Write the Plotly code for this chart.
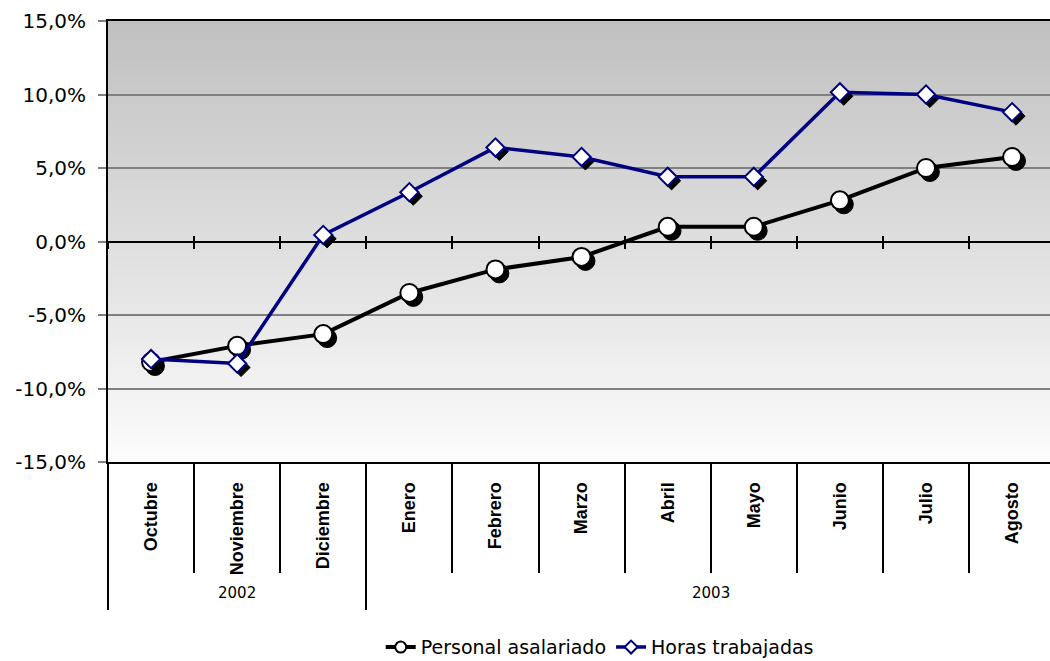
import plotly.graph_objects as go

# ---------------- data ----------------
months = ["Octubre", "Noviembre", "Diciembre", "Enero", "Febrero", "Marzo",
          "Abril", "Mayo", "Junio", "Julio", "Agosto"]
month_year = ["2002", "2002", "2002", "2003", "2003", "2003",
              "2003", "2003", "2003", "2003", "2003"]
personal = [-8.2, -7.1, -6.3, -3.5, -1.9, -1.05, 1.0, 1.0, 2.8, 5.0, 5.75]
horas = [-8.0, -8.3, 0.45, 3.35, 6.4, 5.75, 4.4, 4.4, 10.15, 10.0, 8.8]
y_tick_vals = [-15, -10, -5, 0, 5, 10, 15]
y_tick_text = ["-15,0%", "-10,0%", "-5,0%", "0,0%", "5,0%", "10,0%", "15,0%"]
series_names = ["Personal asalariado", "Horas trabajadas"]

# ---------------- geometry helpers ----------------
n = len(months)
idx = list(range(n))
x_range = [-0.5, 10.44]
y_range = [-15, 15]
inner_bounds = [i + 0.5 for i in range(n - 1)]
all_bounds = [i - 0.5 for i in range(n + 1)]
years = []
for y in month_year:
    if y not in years:
        years.append(y)
year_bounds = [-0.5]
year_centers = []
for y in years:
    first = month_year.index(y)
    last = len(month_year) - 1 - month_year[::-1].index(y)
    year_bounds.append(last + 0.5)
    year_centers.append((first + last) / 2)

dx, dy = 0.045, -0.27  # shadow offset (~4 px)

fig = go.Figure()

fig.add_trace(go.Scatter(x=[i + dx for i in idx], y=[v + dy for v in personal],
                         mode="markers", showlegend=False, hoverinfo="skip",
                         marker=dict(symbol="circle", size=19, color="black",
                                     line=dict(color="black", width=1))))
fig.add_trace(go.Scatter(x=idx, y=personal, mode="lines+markers", name=series_names[0],
                         showlegend=False,
                         line=dict(color="black", width=4),
                         marker=dict(symbol="circle", size=18, color="white",
                                     line=dict(color="black", width=2))))
fig.add_trace(go.Scatter(x=[i + dx for i in idx], y=[v + dy for v in horas],
                         mode="markers", showlegend=False, hoverinfo="skip",
                         marker=dict(symbol="diamond", size=14, color="black",
                                     line=dict(color="black", width=1))))
fig.add_trace(go.Scatter(x=idx, y=horas, mode="lines+markers", name=series_names[1],
                         showlegend=False,
                         line=dict(color="#000080", width=3.5),
                         marker=dict(symbol="diamond", size=14, color="white",
                                     line=dict(color="#000080", width=2))))

# legend entries with small symbols
fig.add_trace(go.Scatter(x=[None], y=[None], mode="lines+markers", name=series_names[0],
                         line=dict(color="black", width=4),
                         marker=dict(symbol="circle", size=11, color="white",
                                     line=dict(color="black", width=2))))
fig.add_trace(go.Scatter(x=[None], y=[None], mode="lines+markers", name=series_names[1],
                         line=dict(color="#000080", width=3.5),
                         marker=dict(symbol="diamond", size=10, color="white",
                                     line=dict(color="#000080", width=2))))

# gradient background (stacked rects, no gaps)
N = 120
shapes = []
for i in range(N):
    t = (i + 0.5) / N  # 0 bottom, 1 top
    c = round(252 - 60 * t)
    shapes.append(dict(type="rect", xref="paper", yref="paper", x0=0, x1=1,
                       y0=i / N, y1=1, layer="below",
                       fillcolor=f"rgb({c},{c},{c})", line=dict(width=0)))

zero_pos = (0 - y_range[0]) / (y_range[1] - y_range[0])

annotations = []
for yl, xc in zip(years, year_centers):
    annotations.append(dict(text=yl, x=xc, xref="x", y=-0.297, yref="paper",
                            showarrow=False, yanchor="middle", xanchor="center",
                            font=dict(family="DejaVu Sans", size=15, color="black")))

common_x = dict(range=x_range, type="linear", showgrid=False, zeroline=False,
                automargin=False, fixedrange=True)

fig.update_layout(
    width=1050, height=661,
    margin=dict(l=108, r=0, t=21, b=199, autoexpand=False),
    paper_bgcolor="white", plot_bgcolor="white",
    shapes=shapes, annotations=annotations,
    font=dict(family="DejaVu Sans", color="black"),
    xaxis=dict(**common_x, tickvals=idx, ticktext=months, tickangle=-90,
               ticks="outside", ticklen=11, tickcolor="rgba(0,0,0,0)",
               tickfont=dict(family="Liberation Sans", size=18, color="black", weight="bold"),
               showline=True, linecolor="black", linewidth=2, mirror=True),
    xaxis2=dict(**common_x, overlaying="x", anchor="y", side="bottom",
                tickvals=inner_bounds, ticks="outside", ticklen=110, tickwidth=2,
                tickcolor="black", showticklabels=False, showline=False),
    xaxis3=dict(**common_x, overlaying="x", anchor="y", side="bottom",
                tickvals=year_bounds, ticks="outside", ticklen=147, tickwidth=2,
                tickcolor="black", showticklabels=False, showline=False),
    xaxis4=dict(**common_x, overlaying="x", anchor="free", position=zero_pos, side="bottom",
                tickvals=all_bounds, ticks="outside", ticklen=6, tickwidth=2,
                tickcolor="black", showticklabels=False, showline=False),
    xaxis5=dict(**common_x, overlaying="x", anchor="free", position=zero_pos, side="bottom",
                tickvals=all_bounds, ticks="inside", ticklen=6, tickwidth=2,
                tickcolor="black", showticklabels=False, showline=False),
    yaxis=dict(range=y_range, tickvals=y_tick_vals, ticktext=y_tick_text,
               automargin=False, fixedrange=True,
               showgrid=True, gridcolor="#808080", gridwidth=1.5,
               zeroline=True, zerolinecolor="black", zerolinewidth=2,
               showline=True, linecolor="black", linewidth=2,
               ticks="outside", ticklen=8, tickcolor="#808080", tickwidth=1.5,
               ticklabelstandoff=8,
               tickfont=dict(family="DejaVu Sans", size=20, color="black")),
    legend=dict(orientation="h", x=0.522, xanchor="center", y=-0.42, yanchor="middle",
                font=dict(family="DejaVu Sans", size=19, color="black"),
                bgcolor="rgba(0,0,0,0)", tracegroupgap=0),
    showlegend=True,
)

for ax in ["x2", "x3", "x4", "x5"]:
    fig.add_trace(go.Scatter(x=[None], y=[None], xaxis=ax, showlegend=False, hoverinfo="skip"))

fig.write_html(
    "out.html",
    config={"displayModeBar": False},
    post_script="document.body.style.margin='0';document.body.style.overflow='hidden';",
)
